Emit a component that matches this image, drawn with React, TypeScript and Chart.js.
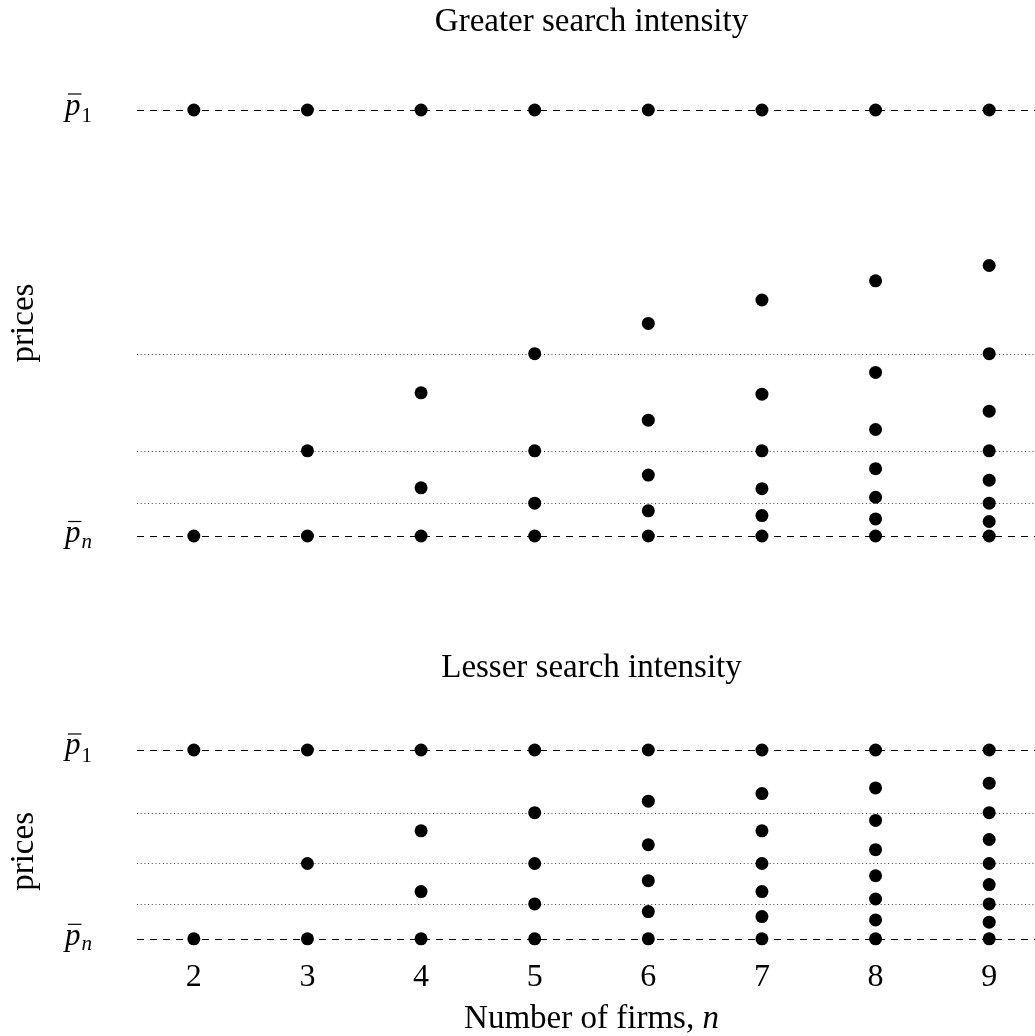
import React, { useEffect, useRef } from "react";
import { Chart, registerables } from "chart.js";

Chart.register(...registerables);

// ---------------- data ----------------
const firmCounts = [2, 3, 4, 5, 6, 7, 8, 9];

// normalised prices: 1 = p̄1 (upper bound), 0 = p̄n (lower bound)
const greaterPrices: number[][] = [
  [1, 0],
  [1, 0.2, 0],
  [1, 0.336, 0.113, 0],
  [1, 0.428, 0.2, 0.077, 0],
  [1, 0.499, 0.272, 0.143, 0.059, 0],
  [1, 0.554, 0.333, 0.2, 0.111, 0.048, 0],
  [1, 0.599, 0.384, 0.25, 0.158, 0.091, 0.04, 0],
  [1, 0.635, 0.428, 0.293, 0.2, 0.131, 0.077, 0.034, 0],
];

const lesserPrices: number[][] = [
  [1, 0],
  [1, 0.399, 0],
  [1, 0.572, 0.25, 0],
  [1, 0.668, 0.399, 0.185, 0],
  [1, 0.729, 0.498, 0.308, 0.144, 0],
  [1, 0.769, 0.572, 0.399, 0.25, 0.118, 0],
  [1, 0.799, 0.627, 0.472, 0.334, 0.211, 0.1, 0],
  [1, 0.824, 0.668, 0.526, 0.399, 0.287, 0.185, 0.088, 0],
];

const greaterLevels = [0.428, 0.2, 0.077];
const lesserLevels = [0.668, 0.399, 0.185];
const boundLevels = [1, 0];
const boundSubscripts = ["1", "n"];

const titleGreater = "Greater search intensity";
const titleLesser = "Lesser search intensity";
const yAxisTitle = "prices";
const xAxisTitle = "Number of firms, ";
const xAxisTitleVar = "n";

const SERIF = '"Liberation Serif", "Times New Roman", serif';

// ---------------- plugins ----------------
const refLinesPlugin = {
  id: "refLines",
  beforeDatasetsDraw(chart: any) {
    const opts = chart.options.plugins.refLines;
    const { ctx, chartArea } = chart;
    const ys = chart.scales.y;
    ctx.save();
    ctx.lineWidth = 1;
    // dotted reference levels
    ctx.strokeStyle = "rgba(0,0,0,0.75)";
    ctx.setLineDash([1, 2.7]);
    for (const v of opts.levels) {
      const y = Math.round(ys.getPixelForValue(v)) + 0.5;
      ctx.beginPath();
      ctx.moveTo(chartArea.left, y);
      ctx.lineTo(chartArea.right, y);
      ctx.stroke();
    }
    // dashed bounds
    ctx.strokeStyle = "#000";
    ctx.setLineDash([7, 6]);
    for (const v of boundLevels) {
      const y = Math.round(ys.getPixelForValue(v)) + 0.5;
      ctx.beginPath();
      ctx.moveTo(chartArea.left, y);
      ctx.lineTo(chartArea.right, y);
      ctx.stroke();
    }
    ctx.restore();
  },
  afterDraw(chart: any) {
    const opts = chart.options.plugins.refLines;
    const { ctx, chartArea } = chart;
    const ys = chart.scales.y;
    ctx.save();
    ctx.fillStyle = "#000";
    ctx.strokeStyle = "#000";
    // y tick labels p̄1 / p̄n
    boundLevels.forEach((v, i) => {
      const y = ys.getPixelForValue(v);
      const base = y + (i === 0 ? 4.5 : 6);
      const x0 = 65;
      ctx.font = `italic 31px ${SERIF}`;
      ctx.textAlign = "left";
      ctx.textBaseline = "alphabetic";
      ctx.fillText("p", x0, base);
      const w = ctx.measureText("p").width;
      ctx.lineWidth = 1.2;
      ctx.beginPath();
      ctx.moveTo(x0 + 3, base - 20.5);
      ctx.lineTo(x0 + w + 1, base - 20.5);
      ctx.stroke();
      const sub = boundSubscripts[i];
      ctx.font = sub === "n" ? `italic 21px ${SERIF}` : `21px ${SERIF}`;
      ctx.fillText(sub, x0 + w + 1, base + (i === 0 ? 7.5 : 5.5));
    });
    // rotated y-axis title
    const mid = (ys.getPixelForValue(1) + ys.getPixelForValue(0)) / 2 + opts.yTitleShift;
    ctx.save();
    ctx.translate(33, mid);
    ctx.rotate(-Math.PI / 2);
    ctx.font = `33px ${SERIF}`;
    ctx.textAlign = "center";
    ctx.textBaseline = "alphabetic";
    ctx.fillText(yAxisTitle, 0, 0);
    ctx.restore();
    // x-axis title with italic variable
    if (opts.showXTitle) {
      const xs = chart.scales.x;
      const cx = (chartArea.left + chartArea.right) / 2;
      const by = xs.bottom + 27;
      ctx.font = `33px ${SERIF}`;
      const w1 = ctx.measureText(xAxisTitle).width;
      ctx.font = `italic 33px ${SERIF}`;
      const w2 = ctx.measureText(xAxisTitleVar).width;
      const start = cx - (w1 + w2) / 2;
      ctx.textAlign = "left";
      ctx.textBaseline = "alphabetic";
      ctx.font = `33px ${SERIF}`;
      ctx.fillText(xAxisTitle, start, by);
      ctx.font = `italic 33px ${SERIF}`;
      ctx.fillText(xAxisTitleVar, start + w1, by);
    }
    ctx.restore();
  },
};

function buildConfig(
  title: string,
  prices: number[][],
  levels: number[],
  showX: boolean,
  yMin: number,
  yMax: number,
  titlePad: { top: number; bottom: number },
  layoutBottom: number,
  yTitleShift: number
): any {
  const points = firmCounts.flatMap((n, i) => prices[i].map((p) => ({ x: n, y: p })));
  return {
    type: "scatter",
    data: {
      datasets: [
        {
          data: points,
          pointRadius: 6.5,
          pointHoverRadius: 6.5,
          pointBackgroundColor: "#000",
          pointBorderWidth: 0,
          borderWidth: 0,
          showLine: false,
          clip: false,
        },
      ],
    },
    options: {
      responsive: false,
      animation: false,
      events: [],
      layout: { padding: { top: 0, left: 0, right: 14, bottom: layoutBottom } },
      plugins: {
        legend: { display: false },
        tooltip: { enabled: false },
        title: {
          display: true,
          text: title,
          fullSize: false,
          align: "center",
          color: "#000",
          font: { family: SERIF, size: 33, weight: "normal", lineHeight: 1 },
          padding: titlePad,
        },
        refLines: { levels, showXTitle: showX, yTitleShift },
      },
      scales: {
        x: {
          type: "linear",
          min: 1.5,
          max: 9.5,
          display: showX,
          afterBuildTicks: (s: any) => {
            s.ticks = firmCounts.map((v) => ({ value: v }));
          },
          grid: { display: false, drawTicks: false },
          border: { display: false },
          ticks: {
            color: "#000",
            padding: 4,
            font: { family: SERIF, size: 32, lineHeight: 1.2 },
            callback: (v: any) => String(v),
            maxRotation: 0,
            autoSkip: false,
          },
        },
        y: {
          type: "linear",
          min: yMin,
          max: yMax,
          grid: { display: false },
          border: { display: false },
          ticks: { display: false },
          afterFit: (s: any) => {
            s.width = 137;
          },
        },
      },
    },
    plugins: [refLinesPlugin],
  };
}

function ChartCanvas({ config, width, height }: { config: any; width: number; height: number }) {
  const ref = useRef<HTMLCanvasElement | null>(null);
  useEffect(() => {
    if (!ref.current) return;
    const chart = new Chart(ref.current, config);
    return () => chart.destroy();
  }, [config]);
  return <canvas ref={ref} width={width} height={height} style={{ display: "block", width, height }} />;
}

const topConfig = buildConfig(titleGreater, greaterPrices, greaterLevels, false, -0.1, 1.1, { top: 5.5, bottom: 28.9 }, 21.4, 0);
const bottomConfig = buildConfig(titleLesser, lesserPrices, lesserLevels, true, -0.082, 1.1, { top: 51.5, bottom: 46.6 }, 35.3, 7);

export default function App() {
  return (
    <div
      style={{
        position: "absolute",
        left: 0,
        top: 0,
        width: 1035,
        height: 1036,
        overflow: "hidden",
        background: "#fff",
      }}
    >
      <ChartCanvas config={topConfig} width={1060} height={600} />
      <ChartCanvas config={bottomConfig} width={1060} height={436} />
    </div>
  );
}
